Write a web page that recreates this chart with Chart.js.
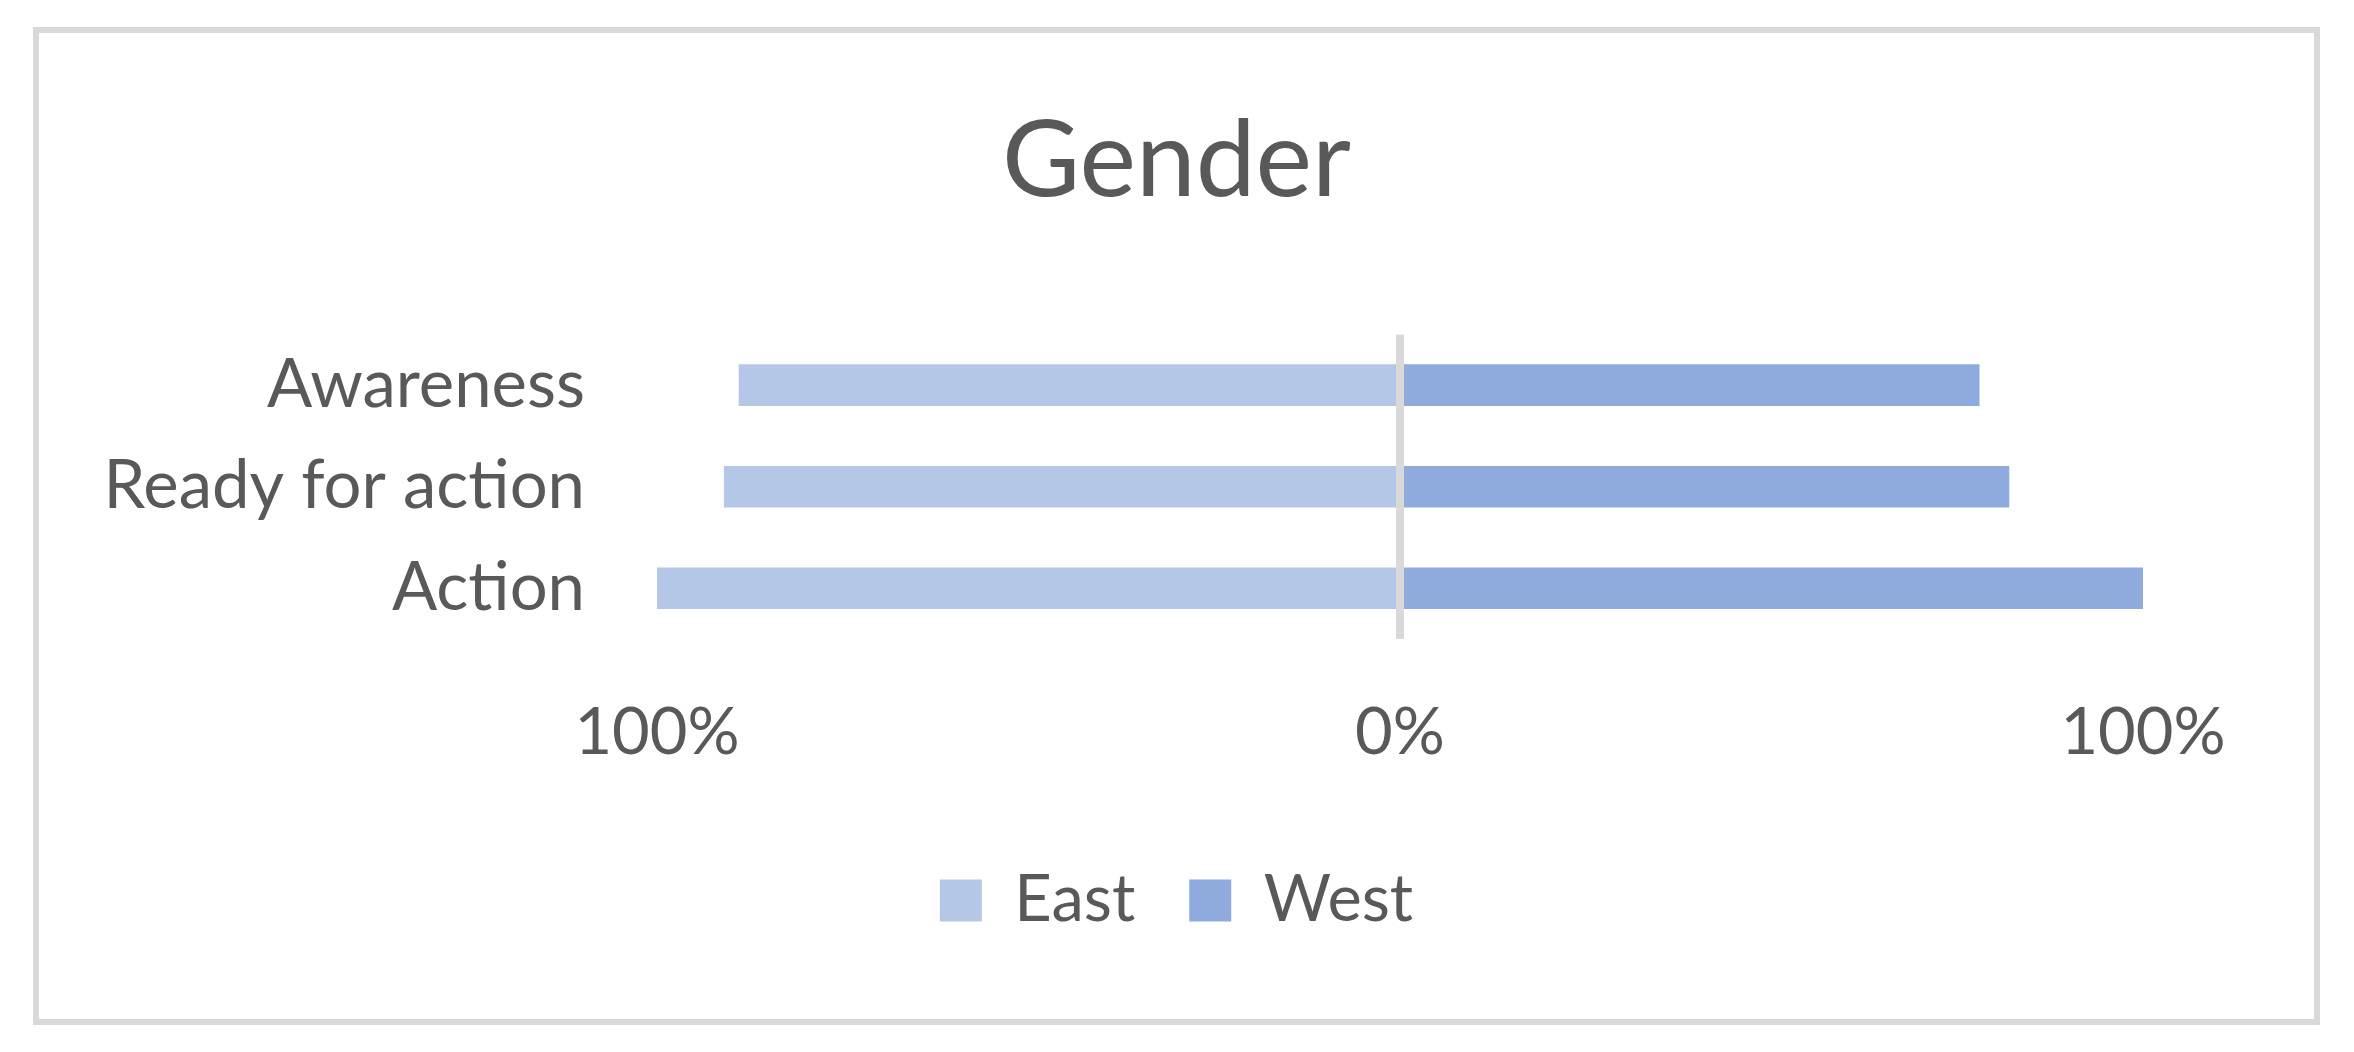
<!DOCTYPE html>
<html lang="en">
<head>
    <meta charset="UTF-8">
    <title>Gender</title>
    <script src="https://cdn.jsdelivr.net/npm/chart.js"></script>
    <style>
        body {
            margin: 0;
            padding: 0;
            background: #ffffff;
        }
        .frame {
            position: absolute;
            left: 33px;
            top: 27px;
            width: 2287px;
            height: 998px;
            border: 6px solid #d9d9d9;
            box-sizing: border-box;
        }
        .inner {
            position: relative;
            width: 100%;
            height: 100%;
        }
    </style>
</head>
<body>
    <div class="frame">
        <div class="inner">
            <canvas id="genderChart"></canvas>
        </div>
    </div>

    <script>
        const categories = ['Awareness', 'Ready for action', 'Action'];
        const eastValues = [89, 91, 100];   // shown to the left of 0%
        const westValues = [78, 82, 100];
        const tickValues = [-100, 0, 100];

        const textColor = '#595959';
        const fontFamily = 'Lato, "Open Sans", sans-serif';

        const ctx = document.getElementById('genderChart').getContext('2d');

        const genderChart = new Chart(ctx, {
            type: 'bar',
            data: {
                labels: categories,
                datasets: [{
                    label: 'East',
                    data: eastValues.map(v => -v),
                    backgroundColor: '#b4c7e7',
                    barPercentage: 0.41,
                    categoryPercentage: 1
                }, {
                    label: 'West',
                    data: westValues,
                    backgroundColor: '#8faadc',
                    barPercentage: 0.41,
                    categoryPercentage: 1
                }]
            },
            options: {
                indexAxis: 'y',
                responsive: true,
                maintainAspectRatio: false,
                animation: false,
                layout: {
                    padding: { left: 0, right: 0, top: 0, bottom: 76 }
                },
                plugins: {
                    title: {
                        display: true,
                        text: 'Gender',
                        color: textColor,
                        font: { family: fontFamily, size: 107, weight: 'normal' },
                        padding: { top: 64, bottom: 109 }
                    },
                    legend: {
                        position: 'bottom',
                        labels: {
                            color: textColor,
                            font: { family: fontFamily, size: 65 },
                            boxWidth: 42,
                            boxHeight: 42,
                            padding: 54
                        }
                    },
                    tooltip: { enabled: false }
                },
                scales: {
                    x: {
                        stacked: true,
                        min: tickValues[0],
                        max: tickValues[tickValues.length - 1],
                        z: 1,
                        afterBuildTicks: (scale) => {
                            scale.ticks = tickValues.map(v => ({ value: v }));
                        },
                        afterFit: (scale) => {
                            scale.height = 175;
                        },
                        ticks: {
                            color: textColor,
                            font: { family: fontFamily, size: 65 },
                            padding: 55,
                            maxRotation: 0,
                            callback: (value) => Math.abs(value) + '%'
                        },
                        grid: {
                            drawTicks: false,
                            lineWidth: 8,
                            color: (c) => (c.tick && c.tick.value === 0) ? '#d9d9d9' : 'rgba(0,0,0,0)'
                        },
                        border: { display: false }
                    },
                    y: {
                        stacked: true,
                        afterFit: (scale) => {
                            scale.width = 618;
                        },
                        ticks: {
                            color: textColor,
                            font: { family: fontFamily, size: 67 },
                            padding: 72
                        },
                        grid: { display: false, drawTicks: false },
                        border: { display: false }
                    },
                    // empty right-hand axis: keeps the plot off the right edge
                    spacer: {
                        type: 'category',
                        axis: 'y',
                        position: 'right',
                        ticks: { display: false },
                        grid: { display: false, drawTicks: false },
                        border: { display: false },
                        afterFit: (scale) => {
                            scale.width = 171;
                        }
                    }
                }
            }
        });
    </script>
</body>
</html>
